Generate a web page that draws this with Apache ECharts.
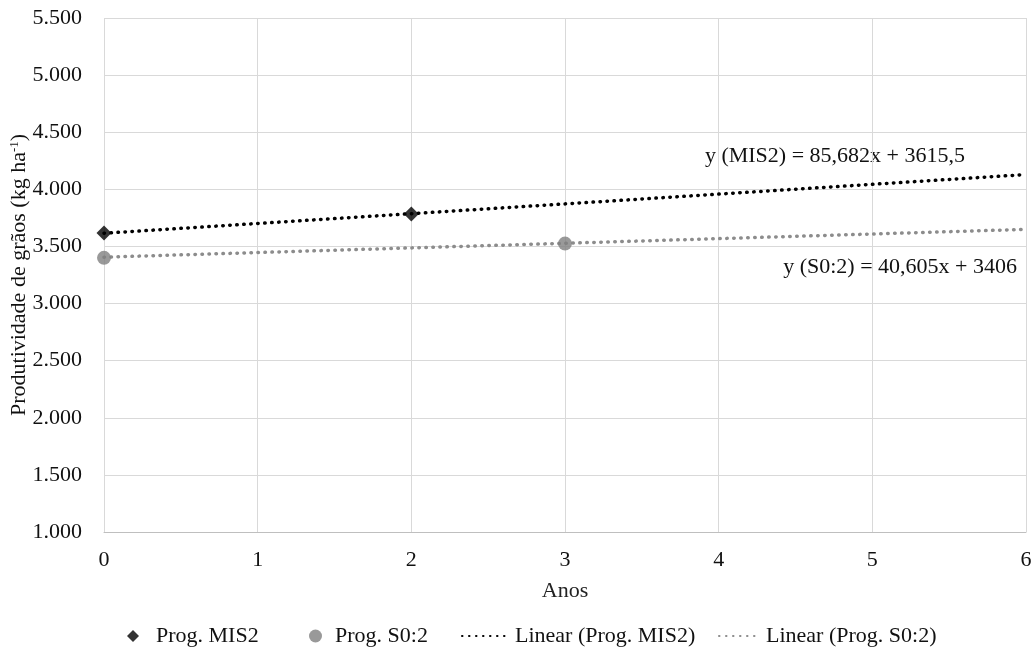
<!DOCTYPE html>
<html>
<head>
<meta charset="utf-8">
<script src="https://cdn.jsdelivr.net/npm/echarts@6/dist/echarts.min.js"></script>
<style>
  html, body { margin: 0; padding: 0; background: #fff; }
  #app { width: 1036px; height: 647px; }
</style>
</head>
<body>
<div id="app"></div>
<script>
// observed points
const misX = [0, 2];
const misY = [3617, 3784];
const s02X = [0, 3];
const s02Y = [3400, 3525];

// trend lines, endpoints at x = 0 and x = 6
const trendX = [0, 6];
const misTrend = [3615.5, 4129.6];
const s02Trend = [3406, 3649.6];

const SERIF = "Liberation Serif";
const FS = 22;

function fmtThousands(v) {
  return String(v).replace(/\B(?=(\d{3})+(?!\d))/g, ".");
}

function pairs(xs, ys) {
  return xs.map((x, i) => [x, ys[i]]);
}

// one legend box per entry so each sits where the reference has it
function legendBox(name, left, opts) {
  return Object.assign({
    data: [name],
    left: left,
    top: 620,
    itemGap: 0,
    textStyle: { fontSize: FS, color: "#111", fontFamily: SERIF }
  }, opts);
}

var chart = echarts.init(document.getElementById("app"));

chart.setOption({
  backgroundColor: "#fff",
  animation: false,
  textStyle: { fontFamily: SERIF },
  grid: { left: 104, right: 10, top: 18, bottom: 115, containLabel: false, outerBoundsMode: "none" },
  xAxis: {
    type: "value",
    min: 0,
    max: 6,
    interval: 1,
    name: "Anos",
    nameLocation: "middle",
    nameGap: 48,
    nameTextStyle: { color: "#222", fontSize: FS, fontFamily: SERIF },
    axisLine: { show: true, lineStyle: { color: "#bfbfbf" } },
    axisTick: { show: false },
    axisLabel: { color: "#111", fontSize: FS, margin: 17, fontFamily: SERIF },
    splitLine: { show: true, lineStyle: { color: "#d9d9d9" } }
  },
  yAxis: {
    type: "value",
    min: 1000,
    max: 5500,
    interval: 500,
    name: "{a|Produtividade de grãos (kg ha}{s|-1}{a|)}",
    nameLocation: "middle",
    nameGap: 74,
    nameMoveOverlap: false,
    nameTextStyle: {
      rich: {
        a: { fontSize: FS, color: "#111", fontFamily: SERIF },
        s: { fontSize: 13, color: "#111", fontFamily: SERIF, verticalAlign: "top", padding: [0, 0, 9, 0] }
      }
    },
    axisLine: { show: false },
    axisTick: { show: false },
    axisLabel: { color: "#111", fontSize: FS, margin: 22, fontFamily: SERIF, formatter: fmtThousands },
    splitLine: { show: true, lineStyle: { color: "#d9d9d9" } }
  },
  legend: [
    legendBox("Prog. MIS2", 122, {
      icon: "diamond", itemWidth: 12, itemHeight: 12,
      textStyle: { fontSize: FS, color: "#111", fontFamily: SERIF, padding: [0, 0, 0, 12] }
    }),
    legendBox("Prog. S0:2", 304, {
      icon: "circle", itemWidth: 13, itemHeight: 13,
      textStyle: { fontSize: FS, color: "#111", fontFamily: SERIF, padding: [0, 0, 0, 8] }
    }),
    legendBox("Linear (Prog. MIS2)", 456, {
      itemWidth: 48, itemHeight: 12,
      itemStyle: { opacity: 0 }
    }),
    legendBox("Linear (Prog. S0:2)", 713, {
      itemWidth: 42, itemHeight: 12,
      itemStyle: { opacity: 0 }
    })
  ],
  graphic: [
    {
      type: "text",
      right: 71,
      top: 145,
      style: { text: "y (MIS2) = 85,682x + 3615,5", font: FS + "px " + SERIF, fill: "#111" }
    },
    {
      type: "text",
      right: 19,
      top: 256,
      style: { text: "y (S0:2) = 40,605x + 3406", font: FS + "px " + SERIF, fill: "#111" }
    }
  ],
  series: [
    {
      name: "Linear (Prog. MIS2)",
      type: "line",
      data: pairs(trendX, misTrend),
      symbol: "none",
      lineStyle: { color: "#000", width: 3.5, cap: "round", type: [0.5, 6.5] },
      itemStyle: { color: "#000" },
      z: 2
    },
    {
      name: "Linear (Prog. S0:2)",
      type: "line",
      data: pairs(trendX, s02Trend),
      symbol: "none",
      lineStyle: { color: "#8c8c8c", width: 3.5, cap: "round", type: [0.5, 6.5] },
      itemStyle: { color: "#8c8c8c" },
      z: 2
    },
    {
      name: "Prog. MIS2",
      type: "scatter",
      data: pairs(misX, misY),
      symbol: "diamond",
      symbolSize: 15,
      itemStyle: { color: "#000" },
      z: 3
    },
    {
      name: "Prog. S0:2",
      type: "scatter",
      data: pairs(s02X, s02Y),
      symbol: "circle",
      symbolSize: 14,
      itemStyle: { color: "#808080" },
      z: 3
    }
  ]
});
</script>
</body>
</html>
